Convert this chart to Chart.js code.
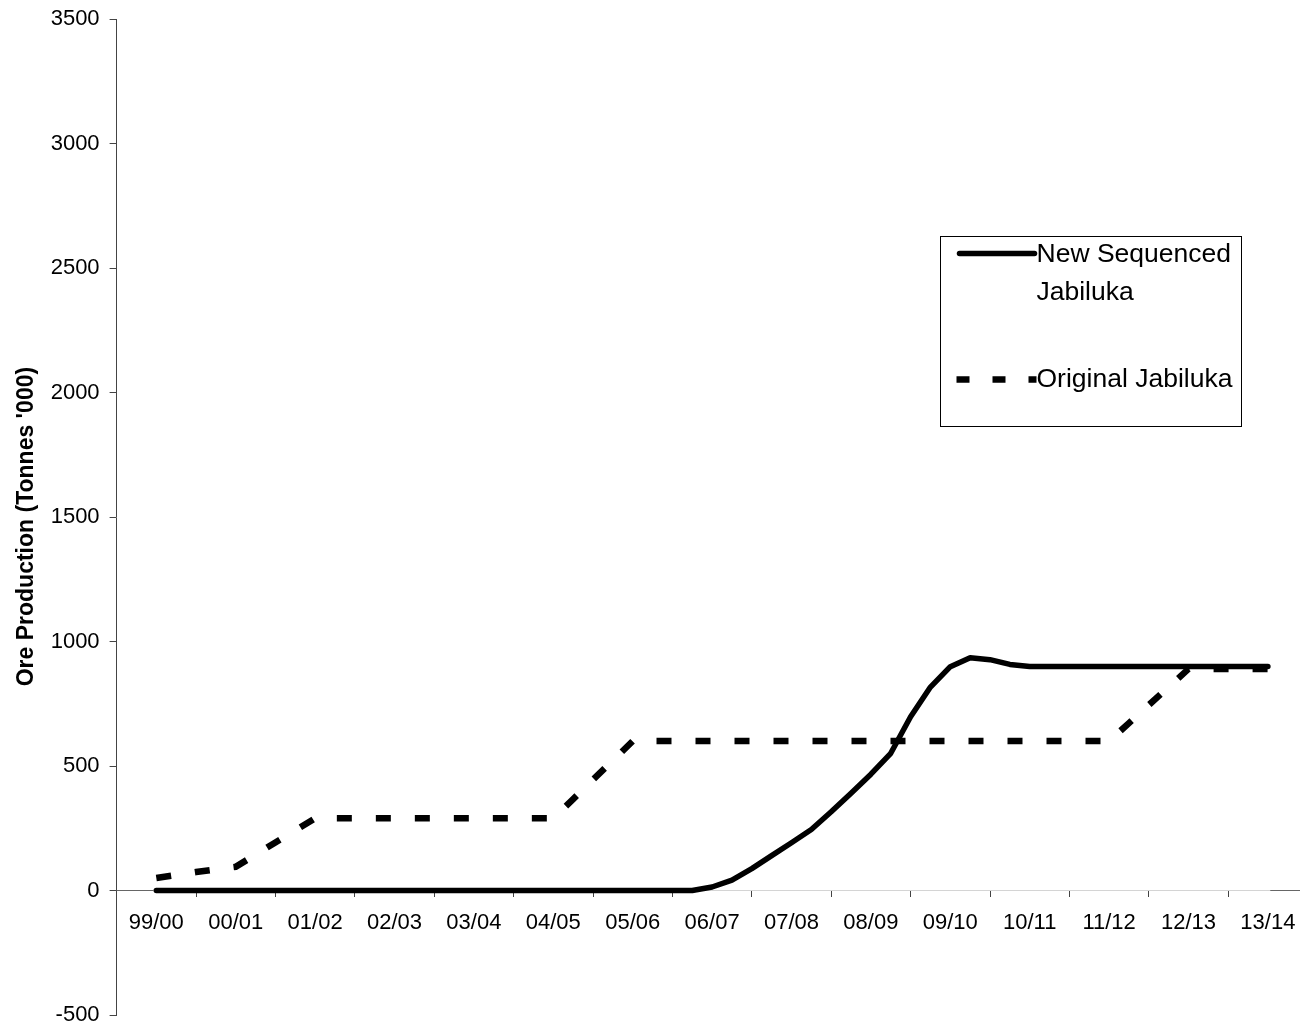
<!DOCTYPE html>
<html>
<head>
<meta charset="utf-8">
<script src="https://cdn.jsdelivr.net/npm/chart.js@4.4.1/dist/chart.umd.min.js"></script>
<style>
  html, body { margin: 0; padding: 0; background: #fff; overflow: hidden; }
  #wrap { width: 1310px; height: 1029px; }
</style>
</head>
<body>
<div id="wrap"><canvas id="chart" width="1310" height="1029"></canvas></div>
<script>
// financial years on the axis
var years = ['99/00','00/01','01/02','02/03','03/04','04/05','05/06','06/07',
             '07/08','08/09','09/10','10/11','11/12','12/13','13/14'];

// quarterly values ('000 tonnes), first point in the middle of 99/00
var newSequenced = [
  0, 0, 0, 0, 0, 0, 0, 0, 0, 0,
  0, 0, 0, 0, 0, 0, 0, 0, 0, 0,
  0, 0, 0, 0, 0, 0, 0, 0, 14, 42,
  88, 140, 192, 245, 316, 391, 467, 551, 698, 817,
  899, 935, 927, 908, 900, 900, 900, 900, 900, 900,
  900, 900, 900, 900, 900, 900, 900
];
var originalJabiluka = [
  50, 62, 74, 85, 95, 144, 193, 241, 290, 290,
  290, 290, 290, 290, 290, 290, 290, 290, 290, 290,
  290, 367, 445, 522, 600, 600, 600, 600, 600, 600,
  600, 600, 600, 600, 600, 600, 600, 600, 600, 600,
  600, 600, 600, 600, 600, 600, 600, 600, 600, 672,
  745, 817, 890, 890, 890, 890, 890
];

var yTicks = [-500, 0, 500, 1000, 1500, 2000, 2500, 3000, 3500];
var seriesNames = ['New Sequenced\nJabiluka', 'Original Jabiluka'];

var FONT = "'Liberation Sans', Arial, sans-serif";

function toPoints(vals){
  // quarter i sits at year index 0.5 + i/4
  return vals.map(function(v, i){ return {x: 0.5 + i / 4, y: v}; });
}

var legendBox = {
  id: 'legendBox',
  afterDraw: function(chart){
    var ctx = chart.ctx;
    var xs = chart.scales.x, ys = chart.scales.y;
    var y0 = ys.getPixelForValue(0);
    // darker bits of the x axis outside the data range
    ctx.save();
    ctx.strokeStyle = '#666';
    ctx.lineWidth = 1;
    ctx.beginPath();
    ctx.moveTo(chart.chartArea.left, y0); ctx.lineTo(xs.getPixelForValue(0.47), y0);
    ctx.moveTo(xs.getPixelForValue(14.53), y0); ctx.lineTo(chart.chartArea.right, y0);
    ctx.stroke();

    // legend
    var bx = 940.5, by = 236.5, bw = 301, bh = 190;
    ctx.strokeStyle = '#000';
    ctx.lineWidth = 1;
    ctx.strokeRect(bx, by, bw, bh);

    ctx.lineWidth = 5.5;
    ctx.lineCap = 'round';
    ctx.beginPath();
    ctx.moveTo(bx + 19, by + 17); ctx.lineTo(bx + 94, by + 17);
    ctx.stroke();

    ctx.lineWidth = 6.5;
    ctx.lineCap = 'butt';
    ctx.setLineDash([13, 23]);
    ctx.beginPath();
    ctx.moveTo(bx + 16, by + 143); ctx.lineTo(bx + 96, by + 143);
    ctx.stroke();
    ctx.setLineDash([]);

    ctx.fillStyle = '#000';
    ctx.font = '26.5px ' + FONT;
    ctx.textBaseline = 'middle';
    ctx.textAlign = 'left';
    var lines = seriesNames[0].split('\n');
    ctx.fillText(lines[0], bx + 96, by + 18);
    ctx.fillText(lines[1], bx + 96, by + 56);
    ctx.fillText(seriesNames[1], bx + 96, by + 143);
    ctx.restore();
  }
};

var ctx = document.getElementById('chart').getContext('2d');
var chart = new Chart(ctx, {
  type: 'line',
  data: {
    datasets: [{
      label: seriesNames[0].replace('\n', ' '),
      data: toPoints(newSequenced),
      borderColor: '#000',
      borderWidth: 5.5,
      borderCapStyle: 'round',
      borderJoinStyle: 'round',
      pointRadius: 0,
      tension: 0,
      fill: false
    }, {
      label: seriesNames[1],
      data: toPoints(originalJabiluka),
      borderColor: '#000',
      borderWidth: 6.5,
      borderDash: [15, 24],
      borderCapStyle: 'butt',
      pointRadius: 0,
      tension: 0,
      fill: false
    }]
  },
  options: {
    responsive: false,
    animation: false,
    layout: { padding: { left: 0, top: 19, right: 2.4, bottom: 14 } },
    plugins: { legend: { display: false }, tooltip: { enabled: false } },
    scales: {
      x: { type: 'linear', min: 0, max: 15, display: false },
      xc: {
        type: 'category',
        axis: 'x',
        labels: years,
        offset: true,
        position: { y: 0 },
        grid: { offset: true, drawOnChartArea: false, tickLength: 6, color: '#444', lineWidth: 1 },
        border: { color: '#d4d4d4', width: 1 },
        ticks: { color: '#000', font: { family: FONT, size: 22 }, padding: 13, maxRotation: 0, autoSkip: false }
      },
      y: {
        min: -500,
        max: 3500,
        afterBuildTicks: function(s){ s.ticks = yTicks.map(function(v){ return {value: v}; }); },
        afterFit: function(s){
          s.width = 116.6;
          s.paddingTop = 0;
          s.paddingBottom = 0;
        },
        grid: { drawOnChartArea: false, tickLength: 7, color: '#444' },
        border: { color: '#444', width: 1 },
        ticks: {
          color: '#000',
          font: { family: FONT, size: 22 },
          padding: 10,
          callback: function(v){ return String(v); }
        },
        title: {
          display: true,
          text: "Ore Production (Tonnes '000)   ",
          color: '#000',
          font: { family: FONT, size: 23, weight: 'bold' },
          padding: { top: 13, bottom: 0 }
        }
      }
    }
  },
  plugins: [legendBox]
});
</script>
</body>
</html>
